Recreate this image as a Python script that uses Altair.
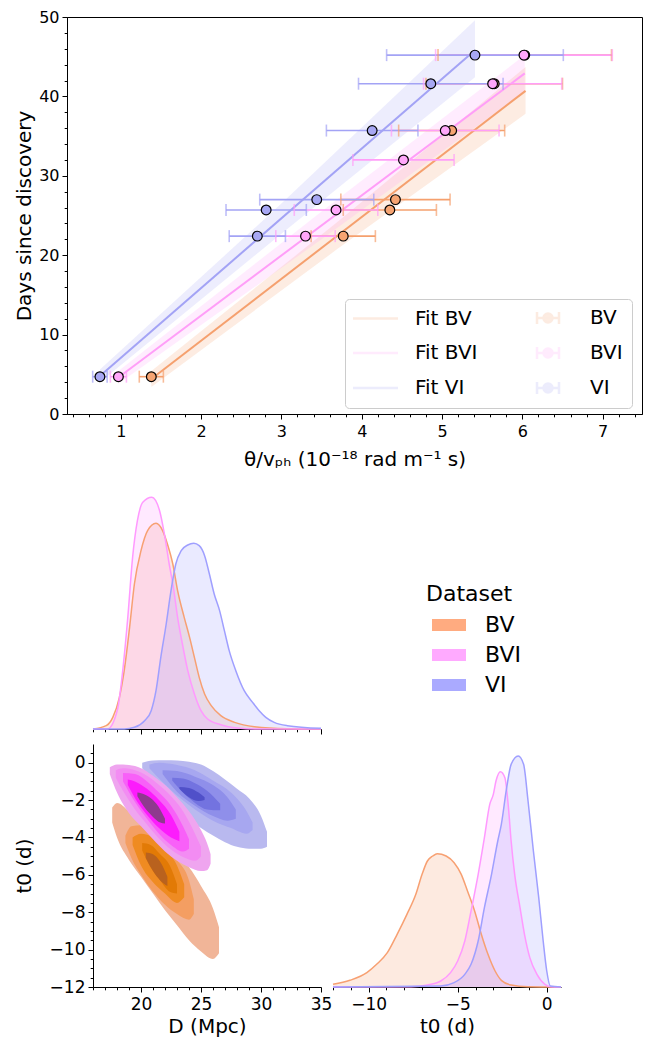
import altair as alt
import pandas as pd

FONT = "DejaVu Sans"
SERIES = ["BV", "BVI", "VI"]

# ---------------- top panel: measurements ----------------
bv_day = [4.7, 22.4, 25.7, 27.0, 35.7, 41.6, 45.2]
bv_x = [1.38, 3.77, 4.35, 4.42, 5.12, 5.65, 6.03]
bv_err = [0.15, 0.40, 0.58, 0.68, 0.66, 0.85, 1.08]
bvi_day = [4.7, 22.4, 25.7, 32.0, 35.7, 41.6, 45.2]
bvi_x = [0.97, 3.30, 3.68, 4.52, 5.04, 5.63, 6.02]
bvi_err = [0.10, 0.37, 0.52, 0.63, 0.67, 0.86, 1.10]
vi_day = [4.7, 22.4, 25.7, 27.0, 35.7, 41.6, 45.2]
vi_x = [0.74, 2.70, 2.81, 3.44, 4.13, 4.86, 5.41]
vi_err = [0.09, 0.35, 0.50, 0.71, 0.57, 0.90, 1.10]

# fitted lines and confidence bands
fit_bv_x = [1.38, 6.04]
fit_bv_y = [4.4, 40.7]
fit_bvi_x = [0.97, 6.03]
fit_bvi_y = [4.6, 42.9]
fit_vi_x = [0.74, 5.41]
fit_vi_y = [4.8, 45.8]
band_bv_x = [1.38, 3.7, 6.04]
band_bv_lo = [3.4, 20.8, 37.8]
band_bv_hi = [5.4, 24.2, 43.7]
band_bvi_x = [0.97, 3.5, 6.03]
band_bvi_lo = [3.8, 22.0, 40.6]
band_bvi_hi = [5.4, 25.5, 45.2]
band_vi_x = [0.74, 3.0, 5.41]
band_vi_lo = [4.0, 22.7, 42.4]
band_vi_hi = [5.6, 26.5, 49.6]

LINE_COL = {"BV": "#F5A06E", "BVI": "#FF9EF8", "VI": "#A3A3F5"}
PT_FILL = {"BV": "#F6A472", "BVI": "#FFA6FA", "VI": "#A7A7F3"}

LEG_LABELS = ["Fit BV", "Fit BVI", "Fit VI", "BV", "BVI", "VI"]
LINE_PATH = "M-2.2,0H6.8"
EB_PATH = ("M-0.4,0H4M-0.4,-1.2V1.2M4,-1.2V1.2"
           "M2.7,0A0.9,0.9 0 1,1 0.9,0A0.9,0.9 0 1,1 2.7,0")

# ---------------- bottom panels: marginal densities ----------------
bv_D = [16.0, 17.1, 17.65, 18.2, 18.6, 19.05, 19.45, 20.0, 20.55, 21.25, 21.8, 22.2, 22.65,
        23.05, 23.6, 24.05, 24.45, 24.85, 25.3, 25.85, 26.65, 27.8, 29.45, 32.2, 35.0]
bv_hD = [0, 10, 35, 95, 175, 305, 435, 535, 595, 617, 595, 555, 495,
         415, 335, 275, 215, 155, 105, 70, 40, 20, 7, 1, 0]
bvi_D = [16.0, 17.2, 18.05, 18.35, 18.9, 19.3, 19.7, 20.15, 20.9, 21.55, 21.95, 22.35, 22.7,
         23.05, 23.45, 23.9, 24.45, 25.0, 25.55, 26.65, 28.05, 29.5, 35.0]
bvi_hD = [0, 0, 60, 135, 335, 515, 625, 680, 695, 655, 585, 495, 425,
          335, 255, 175, 105, 55, 30, 13, 3, 0, 0]
vi_D = [16.0, 18.6, 19.45, 20.3, 20.85, 21.25, 21.65, 22.1, 22.5, 22.9, 23.35, 23.9, 24.4, 24.85,
        25.3, 25.7, 26.1, 26.55, 26.95, 27.35, 27.9, 28.6, 29.3, 29.85, 30.4, 31.1, 32.2, 35.0]
vi_hD = [0, 0, 5, 25, 55, 115, 215, 315, 415, 495, 535, 552, 557, 550,
         520, 465, 405, 355, 295, 235, 175, 115, 80, 55, 35, 20, 10, 2]

bv_T = [-12.0, -11.05, -10.1, -9.55, -8.95, -8.4, -7.85, -7.35, -7.0, -6.7, -6.4, -6.15,
        -5.65, -5.2, -4.8, -4.45, -4.05, -3.7, -3.3, -2.9, -2.55, -2.0, -1.05, 0.8]
bv_hT = [8, 20, 43, 68, 103, 158, 218, 278, 338, 378, 393, 400,
         393, 373, 338, 288, 228, 163, 98, 48, 20, 6, 1, 0]
bvi_T = [-12.0, -7.6, -6.7, -5.95, -5.4, -5.0, -4.6, -4.25, -3.85, -3.5, -3.2, -3.0, -2.85,
         -2.6, -2.35, -2.15, -2.0, -1.8, -1.5, -1.25, -0.95, -0.55, -0.1, 0.2, 0.8]
bvi_hT = [0, 1, 6, 18, 43, 78, 138, 228, 338, 448, 548, 578, 618,
          646, 628, 538, 438, 338, 238, 158, 88, 38, 8, 1, 0]
vi_T = [-12.0, -5.95, -5.2, -4.6, -4.25, -3.85, -3.5, -3.1, -2.75, -2.55, -2.25, -2.0,
        -1.6, -1.3, -1.05, -0.75, -0.45, -0.2, 0.0, 0.2, 0.8]
vi_hT = [0, 3, 13, 38, 68, 138, 238, 338, 438, 488, 598, 668,
         693, 668, 558, 408, 268, 138, 48, 3, 0]

MARG_COL = {"BV": "#F7A072", "BVI": "#FF99FF", "VI": "#9F9FFF"}
PATCH_COL = ["#FFAB80", "#FFAAFF", "#AAAAFF"]
PATCH_PATH = "M-1,-1.2H5.8V1.2H-1Z"

# ---------------- 2D density contours (D, lower t0, upper t0) ----------------
bv_levels = [
    ([17.6, 18, 19, 20, 21, 22, 23, 24, 25, 26, 26.5],
     [-3.2, -4.0, -5.2, -6.1, -7.0, -7.9, -8.7, -9.5, -10.1, -10.5, -10.2],
     [-2.4, -2.15, -2.6, -3.2, -3.8, -4.5, -5.0, -5.6, -6.6, -7.8, -8.8]),
    ([18.7, 19.2, 20, 21, 22, 23, 24, 24.4],
     [-4.3, -5.1, -6.0, -6.9, -7.6, -8.1, -8.4, -8.1],
     [-3.9, -3.4, -3.35, -3.8, -4.5, -5.2, -6.3, -7.3]),
    ([19.3, 20, 21, 22, 23, 23.6],
     [-4.4, -5.5, -6.4, -7.0, -7.5, -7.2],
     [-4.0, -3.8, -4.0, -4.6, -5.5, -6.5]),
    ([20.1, 20.8, 21.6, 22.4, 23.0],
     [-4.7, -5.6, -6.3, -6.9, -7.0],
     [-4.3, -4.4, -4.9, -5.5, -6.5]),
    ([20.4, 21, 21.6, 22.2],
     [-5.1, -5.8, -6.3, -6.6],
     [-4.8, -4.9, -5.3, -6.1]),
]
bvi_levels = [
    ([17.4, 18, 19, 20, 21, 22, 23, 24, 25, 25.5, 25.8],
     [-0.6, -1.6, -2.7, -3.4, -4.1, -4.75, -5.25, -5.6, -5.8, -5.75, -5.4],
     [-0.25, -0.1, -0.12, -0.3, -0.7, -1.2, -1.85, -2.6, -3.6, -4.3, -4.9]),
    ([17.9, 18.5, 19.5, 20.5, 21.5, 22.5, 23.5, 24.5, 25.0],
     [-0.8, -1.5, -2.5, -3.3, -4.05, -4.65, -5.05, -5.25, -5.0],
     [-0.4, -0.3, -0.4, -0.7, -1.2, -1.8, -2.6, -3.8, -4.5]),
    ([18.5, 19.5, 20.5, 21.5, 22.5, 23.5, 24.0],
     [-1.0, -2.1, -3.0, -3.8, -4.4, -4.75, -4.6],
     [-0.55, -0.6, -1.0, -1.6, -2.3, -3.4, -4.1]),
    ([18.9, 19.5, 20.5, 21.5, 22.5, 23.2],
     [-1.2, -1.9, -2.8, -3.5, -4.0, -4.2],
     [-0.9, -1.0, -1.4, -2.0, -2.8, -3.7]),
    ([19.7, 20.3, 21.0, 21.6, 22.0],
     [-1.8, -2.4, -2.9, -3.2, -3.25],
     [-1.6, -1.7, -2.0, -2.5, -3.0]),
]
vi_levels = [
    ([20.1, 21, 22, 23, 24, 25, 26, 27, 28, 29, 30, 30.5],
     [-0.3, -1.0, -1.7, -2.4, -3.0, -3.5, -3.9, -4.25, -4.5, -4.6, -4.6, -4.5],
     [0.0, 0.12, 0.13, 0.12, 0.05, -0.1, -0.45, -0.9, -1.4, -1.9, -2.85, -3.7]),
    ([20.7, 21.5, 23, 24.5, 26, 27.5, 28.8, 29.3],
     [-0.3, -0.85, -1.75, -2.5, -3.1, -3.5, -3.8, -3.6],
     [-0.1, 0.0, -0.12, -0.4, -0.95, -1.6, -2.6, -3.2]),
    ([21.8, 23, 24.5, 26, 27.2, 27.9],
     [-0.6, -1.55, -2.3, -2.85, -3.1, -3.0],
     [-0.4, -0.45, -0.75, -1.2, -1.85, -2.5]),
    ([22.6, 23.5, 24.5, 25.5, 26.6],
     [-0.95, -1.6, -2.15, -2.5, -2.55],
     [-0.8, -0.85, -1.1, -1.5, -2.2]),
    ([23.2, 24, 24.8, 25.3],
     [-1.4, -1.85, -2.05, -2.0],
     [-1.3, -1.35, -1.6, -1.85]),
]
LEVEL_COL = {
    "BV": ["#F1B598", "#F49E62", "#EF8B22", "#E27A06", "#B9621E"],
    "BVI": ["#EFA5EF", "#F38CF3", "#F860F8", "#FC1CFC", "#8E3A8E"],
    "VI": ["#B9B9EF", "#A7A7F0", "#8F8FEA", "#7373E0", "#5050C9"],
}

# ---------------- build tables ----------------
meas = {"BV": (bv_x, bv_day, bv_err), "BVI": (bvi_x, bvi_day, bvi_err), "VI": (vi_x, vi_day, vi_err)}
pts_rows, cap_rows = [], []
for s in SERIES:
    xs, ds, es = meas[s]
    for x, d, e in zip(xs, ds, es):
        pts_rows.append({"series": s, "x": x, "day": d, "xlo": x - e, "xhi": x + e,
                         "col": LINE_COL[s], "pfill": PT_FILL[s]})
        cap_rows.append({"series": s, "x": x - e, "day": d, "col": LINE_COL[s]})
        cap_rows.append({"series": s, "x": x + e, "day": d, "col": LINE_COL[s]})
pts = pd.DataFrame(pts_rows)
caps = pd.DataFrame(cap_rows)

fits_src = {"BV": (fit_bv_x, fit_bv_y), "BVI": (fit_bvi_x, fit_bvi_y), "VI": (fit_vi_x, fit_vi_y)}
fits = pd.DataFrame([{"series": s, "x": x, "y": y, "col": LINE_COL[s]}
                     for s in SERIES for x, y in zip(*fits_src[s])])
bands_src = {"BV": (band_bv_x, band_bv_lo, band_bv_hi), "BVI": (band_bvi_x, band_bvi_lo, band_bvi_hi),
             "VI": (band_vi_x, band_vi_lo, band_vi_hi)}
bands = pd.DataFrame([{"series": s, "x": x, "lo": lo, "hi": hi, "col": LINE_COL[s]}
                      for s in SERIES for x, lo, hi in zip(*bands_src[s])])

leg_df = pd.DataFrame({"lab": LEG_LABELS})
LEG_STROKE = [LINE_COL[s] for s in SERIES] * 2
LEG_FILL = ["transparent"] * 3 + [PT_FILL[s] for s in SERIES]
LEG_SHAPE = [LINE_PATH] * 3 + [EB_PATH] * 3


def tick_size(test, major=5, minor=2.8):
    return {"condition": {"test": test, "value": major}, "value": minor}


# ---------------- top chart ----------------
X_TOP = alt.Scale(domain=[0.33, 7.49], nice=False, zero=False)
Y_TOP = alt.Scale(domain=[0, 50], nice=False, zero=False)
x_top_ticks = [round(0.4 + 0.2 * i, 1) for i in range(36)]
y_top_ticks = list(range(0, 51, 2))
INT_TEST = "abs(datum.value - round(datum.value)) < 0.001"

ax_top_x = alt.Axis(values=x_top_ticks, labelExpr=f"{INT_TEST} ? datum.label : ''",
                    tickSize=tick_size(INT_TEST), format=".0f", labelFlush=False,
                    labelOverlap=False, title="θ/vₚₕ (10⁻¹⁸ rad m⁻¹ s)", titlePadding=10,
                    labelPadding=4, labelFontSize=16)
ax_top_y = alt.Axis(values=y_top_ticks, labelExpr="datum.value % 10 === 0 ? datum.label : ''",
                    tickSize=tick_size("datum.value % 10 === 0"), format=".0f", labelOverlap=False,
                    title="Days since discovery", minExtent=30, maxExtent=30, titlePadding=3,
                    labelFontSize=16)

band_l = alt.Chart(bands).mark_area(opacity=0.2).encode(
    x=alt.X("x:Q", scale=X_TOP, axis=ax_top_x),
    y=alt.Y("lo:Q", scale=Y_TOP, axis=ax_top_y),
    y2="hi:Q",
    fill=alt.Fill("col:N", scale=None),
    detail="series:N",
)
fit_l = alt.Chart(fits).mark_line(strokeWidth=2).encode(
    x=alt.X("x:Q", scale=X_TOP, axis=ax_top_x),
    y=alt.Y("y:Q", scale=Y_TOP, axis=ax_top_y),
    stroke=alt.Stroke("col:N", scale=None),
    detail="series:N",
)
err_l = alt.Chart(pts).mark_rule(strokeWidth=1.6).encode(
    x=alt.X("xlo:Q", scale=X_TOP, axis=ax_top_x),
    x2="xhi:Q",
    y=alt.Y("day:Q", scale=Y_TOP, axis=ax_top_y),
    stroke=alt.Stroke("col:N", scale=None),
)
cap_l = alt.Chart(caps).mark_tick(orient="vertical", size=12, thickness=1.6).encode(
    x=alt.X("x:Q", scale=X_TOP, axis=ax_top_x),
    y=alt.Y("day:Q", scale=Y_TOP, axis=ax_top_y),
    color=alt.Color("col:N", scale=None),
)
pt_l = alt.Chart(pts).mark_point(filled=True, size=95, stroke="black", strokeWidth=1.2, opacity=1).encode(
    x=alt.X("x:Q", scale=X_TOP, axis=ax_top_x),
    y=alt.Y("day:Q", scale=Y_TOP, axis=ax_top_y),
    fill=alt.Fill("pfill:N", scale=None),
)
legend_top = alt.Legend(title=None, orient="none", legendX=278, legendY=282, columns=2,
                        labelFontSize=20, labelFont=FONT, labelColor="black",
                        symbolSize=100, symbolStrokeWidth=2.5, symbolOpacity=1, labelOffset=41,
                        rowPadding=13, columnPadding=51, padding=9,
                        fillColor="white", strokeColor="#CCCCCC", cornerRadius=4)
dummy_l = alt.Chart(leg_df).mark_point(clip=True, size=100, opacity=1).encode(
    x=alt.value(-500), y=alt.value(-500),
    stroke=alt.Stroke("lab:N", scale=alt.Scale(domain=LEG_LABELS, range=LEG_STROKE), legend=legend_top),
    fill=alt.Fill("lab:N", scale=alt.Scale(domain=LEG_LABELS, range=LEG_FILL), legend=legend_top),
    shape=alt.Shape("lab:N", scale=alt.Scale(domain=LEG_LABELS, range=LEG_SHAPE), legend=legend_top),
)
top = alt.layer(band_l, fit_l, err_l, cap_l, pt_l, dummy_l).properties(
    width=575, height=397, view=alt.ViewBackground(stroke="black", strokeWidth=1))

# ---------------- bottom charts ----------------
E2, TP2 = 46, 13
XD = alt.Scale(domain=[16, 35], nice=False, zero=False)
YT = alt.Scale(domain=[-12, 1], nice=False, zero=False)
XT = alt.Scale(domain=[-12, 0.8], nice=False, zero=False)

marg_D = pd.DataFrame(
    [{"series": "BV", "D": d, "h": h, "col": MARG_COL["BV"]} for d, h in zip(bv_D, bv_hD)]
    + [{"series": "BVI", "D": d, "h": h, "col": MARG_COL["BVI"]} for d, h in zip(bvi_D, bvi_hD)]
    + [{"series": "VI", "D": d, "h": h, "col": MARG_COL["VI"]} for d, h in zip(vi_D, vi_hD)]
)
marg_T = pd.DataFrame(
    [{"series": "BV", "T": t, "h": h, "col": MARG_COL["BV"]} for t, h in zip(bv_T, bv_hT)]
    + [{"series": "BVI", "T": t, "h": h, "col": MARG_COL["BVI"]} for t, h in zip(bvi_T, bvi_hT)]
    + [{"series": "VI", "T": t, "h": h, "col": MARG_COL["VI"]} for t, h in zip(vi_T, vi_hT)]
)

ax_D_top = alt.Axis(values=list(range(16, 36)), labels=False,
                    tickSize=tick_size("datum.value % 5 === 0"), title=None)
ax_hidden_y = alt.Axis(labels=False, ticks=False, domain=False, title="t0 (d)",
                       titleColor="transparent", minExtent=E2, maxExtent=E2, titlePadding=TP2)
YD_M = alt.Scale(domain=[0, 720], nice=False, zero=True)

top_marg = alt.layer(
    alt.Chart(marg_D).mark_area(opacity=0.22, interpolate="monotone").encode(
        x=alt.X("D:Q", scale=XD, axis=ax_D_top),
        y=alt.Y("h:Q", scale=YD_M, axis=ax_hidden_y, stack=None),
        fill=alt.Fill("col:N", scale=None), detail="series:N"),
    alt.Chart(marg_D).mark_line(strokeWidth=1.5, interpolate="monotone").encode(
        x=alt.X("D:Q", scale=XD, axis=ax_D_top),
        y=alt.Y("h:Q", scale=YD_M, axis=ax_hidden_y),
        stroke=alt.Stroke("col:N", scale=None), detail="series:N"),
).properties(width=228, height=240)

ds_df = pd.DataFrame({"Dataset": SERIES})
legend_ds = alt.Legend(title="Dataset", orient="none", legendX=93, legendY=95,
                       titleFontSize=22, titleFontWeight="normal", titleColor="black",
                       titleFont=FONT, titlePadding=8, labelFontSize=22, labelColor="black",
                       labelFont=FONT, symbolType=PATCH_PATH, symbolSize=100,
                       symbolStrokeWidth=0, symbolOpacity=1, labelOffset=37, rowPadding=8, padding=0)
leg_cell = alt.Chart(ds_df).mark_point(clip=True, filled=True, size=100, opacity=1).encode(
    x=alt.value(-500), y=alt.value(-500),
    fill=alt.Fill("Dataset:N", scale=alt.Scale(domain=SERIES, range=PATCH_COL), legend=legend_ds),
).properties(width=228, height=240)

ax_2d_x = alt.Axis(values=list(range(16, 36)), labelExpr="datum.value % 5 === 0 ? datum.label : ''",
                   tickSize=tick_size("datum.value % 5 === 0"), format=".0f", title="D (Mpc)",
                   labelFlush=False, labelOverlap=False, labelPadding=4)
ax_2d_y = alt.Axis(values=[-12 + 0.5 * i for i in range(26)],
                   labelExpr="datum.value % 2 === 0 ? datum.label : ''",
                   tickSize=tick_size("datum.value % 2 === 0"), format=".0f", title="t0 (d)",
                   minExtent=E2, maxExtent=E2, titlePadding=TP2, labelOverlap=False)

contour_layers = []
for s, levels in [("BV", bv_levels), ("VI", vi_levels), ("BVI", bvi_levels)]:
    for i, (ds, los, his) in enumerate(levels):
        df = pd.DataFrame({"D": ds, "lo": los, "hi": his, "col": LEVEL_COL[s][i]})
        contour_layers.append(
            alt.Chart(df).mark_area(interpolate="monotone", opacity=1).encode(
                x=alt.X("D:Q", scale=XD, axis=ax_2d_x),
                y=alt.Y("lo:Q", scale=YT, axis=ax_2d_y),
                y2="hi:Q",
                fill=alt.Fill("col:N", scale=None),
            )
        )
d2 = alt.layer(*contour_layers).properties(width=228, height=243)

ax_rm_x = alt.Axis(values=list(range(-12, 1)), labelExpr="datum.value % 5 === 0 ? datum.label : ''",
                   tickSize=tick_size("datum.value % 5 === 0"), format=".0f", title="t0 (d)",
                   labelFlush=False, labelOverlap=False, labelPadding=4)
YT_M = alt.Scale(domain=[0, 729], nice=False, zero=True)
right_marg = alt.layer(
    alt.Chart(marg_T).mark_area(opacity=0.22, interpolate="monotone").encode(
        x=alt.X("T:Q", scale=XT, axis=ax_rm_x),
        y=alt.Y("h:Q", scale=YT_M, axis=None, stack=None),
        fill=alt.Fill("col:N", scale=None), detail="series:N"),
    alt.Chart(marg_T).mark_line(strokeWidth=1.5, interpolate="monotone").encode(
        x=alt.X("T:Q", scale=XT, axis=ax_rm_x),
        y=alt.Y("h:Q", scale=YT_M, axis=None),
        stroke=alt.Stroke("col:N", scale=None), detail="series:N"),
).properties(width=228, height=243)

grid = alt.concat(top_marg, leg_cell, d2, right_marg, columns=2,
                  spacing={"row": 8, "column": -5}, align="each").resolve_scale(
    fill="independent", stroke="independent")

# a 1-px blank cell lets the corner plot sit further right than the top panel
spacer = alt.Chart(pd.DataFrame({"s": [0]})).mark_point(opacity=0).encode(
    x=alt.value(0), y=alt.value(0)).properties(width=1, height=1)
bottom = alt.hconcat(spacer, grid, spacing=-58).resolve_scale(
    fill="independent", stroke="independent")

chart = alt.vconcat(top, bottom, spacing=15).resolve_scale(
    fill="independent", stroke="independent", shape="independent", color="independent"
).properties(
    padding={"left": 13, "top": 8, "right": 9, "bottom": 0}
).configure_view(stroke="transparent").configure_axis(
    labelFont=FONT, titleFont=FONT, labelFontSize=17, titleFontSize=20,
    titleFontWeight="normal", labelColor="black", titleColor="black",
    domainColor="black", tickColor="black", tickWidth=1, domainWidth=1,
    grid=False, labelPadding=3,
).configure_legend(labelFont=FONT, titleFont=FONT)

chart.save("out.html", embed_options={"renderer": "svg", "actions": False})
